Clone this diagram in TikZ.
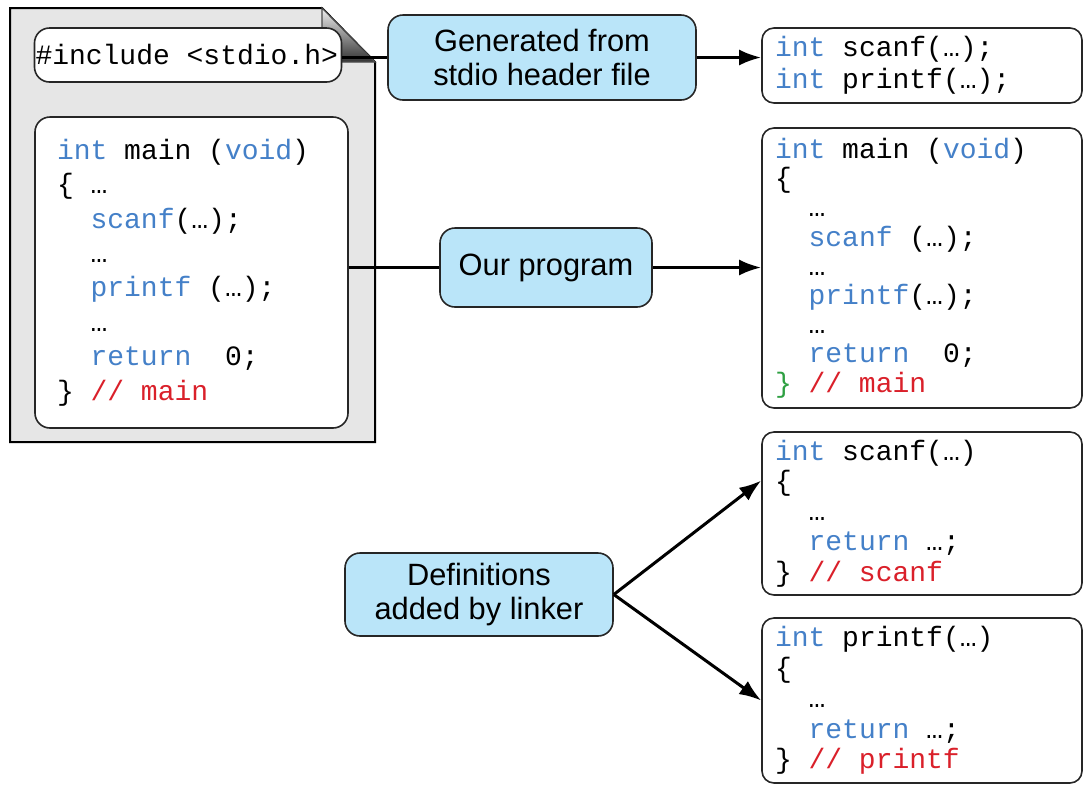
\documentclass[tikz,border=0pt]{standalone}
\usepackage{fontspec}
\setmainfont{Liberation Sans}
\setmonofont{Liberation Mono}
\usepackage{xcolor}
\definecolor{codeblue}{RGB}{68, 128, 200}
\definecolor{codered}{RGB}{218, 32, 42}
\definecolor{codegreen}{RGB}{46, 160, 66}
\definecolor{boxblue}{RGB}{186, 229, 249}
\definecolor{pagegray}{RGB}{230, 230, 230}
\usetikzlibrary{arrows.meta, calc}
\newcommand{\kwd}[1]{\textcolor{codeblue}{#1}}
\newcommand{\cmt}[1]{\textcolor{codered}{#1}}
\newcommand{\codefont}[1]{\ttfamily\fontsize{14}{#1}\selectfont}
\frenchspacing

\begin{document}
\begin{tikzpicture}[x=0.5pt, y=-0.5pt,
  codebox/.style={draw=black!85, line width=0.8pt, rounded corners=6pt, fill=white, align=flush left, inner ysep=0pt, font=\codefont{#1}, execute at begin node={\spaceskip=8.4pt\relax\xspaceskip=8.4pt\relax}},
  lbl/.style={draw=black!85, line width=0.8pt, rounded corners=7.5pt, fill=boxblue, align=center, inner sep=0pt, font=\fontsize{15.4}{17}\selectfont},
  flow/.style={line width=1.5pt, -{Latex[length=11pt, width=8pt]}}]
\useasboundingbox (0,0) rectangle (1083,784);

% source file page
\draw[line width=1pt, fill=pagegray] (10,8) -- (322,8) -- (375,62) -- (375,442) -- (10,442) -- cycle;
\shade[top color=gray!12, bottom color=black!80, draw=black!70, line width=0.6pt] (322,8) -- (375,62) -- (322,62) -- cycle;

\node[codebox=17.25, rounded corners=7.5pt, text width=152.5pt, inner xsep=0.5pt, minimum height=27pt] (inc) at (188,55) {\#include~<stdio.h>};
\node[codebox=17.25, rounded corners=7.5pt, text width=134.5pt, inner xsep=11pt, minimum height=155.5pt] (mainL) at (191.5,272.5) {\kwd{int} main (\kwd{void})\\
\{ …\\
~~\kwd{scanf}(…);\\
~~…\\
~~\kwd{printf} (…);\\
~~…\\
~~\kwd{return}~~0;\\
\} \cmt{// main}};

% labels
\node[lbl, minimum width=154pt, minimum height=42.5pt] (gen) at (542,57.5) {Generated from\\ stdio header file};
\node[lbl, minimum width=106pt, minimum height=39.5pt] (prog) at (546,267.5) {Our program};
\node[lbl, minimum width=134pt, minimum height=41.5pt] (defs) at (479,594.5) {Definitions\\ added by linker};

% resulting code
\node[codebox=16, text width=147pt, inner xsep=6.5pt, minimum height=37.5pt] (hdr) at (922,65.5) {\kwd{int} scanf(…);\\
\kwd{int} printf(…);};
\node[codebox=14.6, text width=147pt, inner xsep=6.5pt, minimum height=140pt] (mainR) at (922,268) {\kwd{int} main (\kwd{void})\\
\{\\
~~…\\
~~\kwd{scanf} (…);\\
~~…\\
~~\kwd{printf}(…);\\
~~…\\
~~\kwd{return}~~0;\\
\textcolor{codegreen}{\}} \cmt{// main}};
\node[codebox=15.1, text width=147pt, inner xsep=6.5pt, minimum height=81.5pt] (scanfB) at (922,513.5) {\kwd{int} scanf(…)\\
\{\\
~~…\\
~~\kwd{return} …;\\
\} \cmt{// scanf}};
\node[codebox=15.2, text width=147pt, inner xsep=6.5pt, minimum height=82.5pt] (printfB) at (922,700.5) {\kwd{int} printf(…)\\
\{\\
~~…\\
~~\kwd{return} …;\\
\} \cmt{// printf}};

% connectors
\draw[line width=1.5pt] (gen.west -| inc.east) -- (gen.west);
\draw[flow] (gen.east) -- (gen.east -| hdr.west);
\draw[line width=1.5pt] (prog.west -| mainL.east) -- (prog.west);
\draw[flow] (prog.east) -- (prog.east -| mainR.west);
\draw[flow] (defs.east) -- ($(scanfB.north west)!0.3!(scanfB.south west)$);
\draw[flow] (defs.east) -- (printfB.west);
\end{tikzpicture}
\end{document}
